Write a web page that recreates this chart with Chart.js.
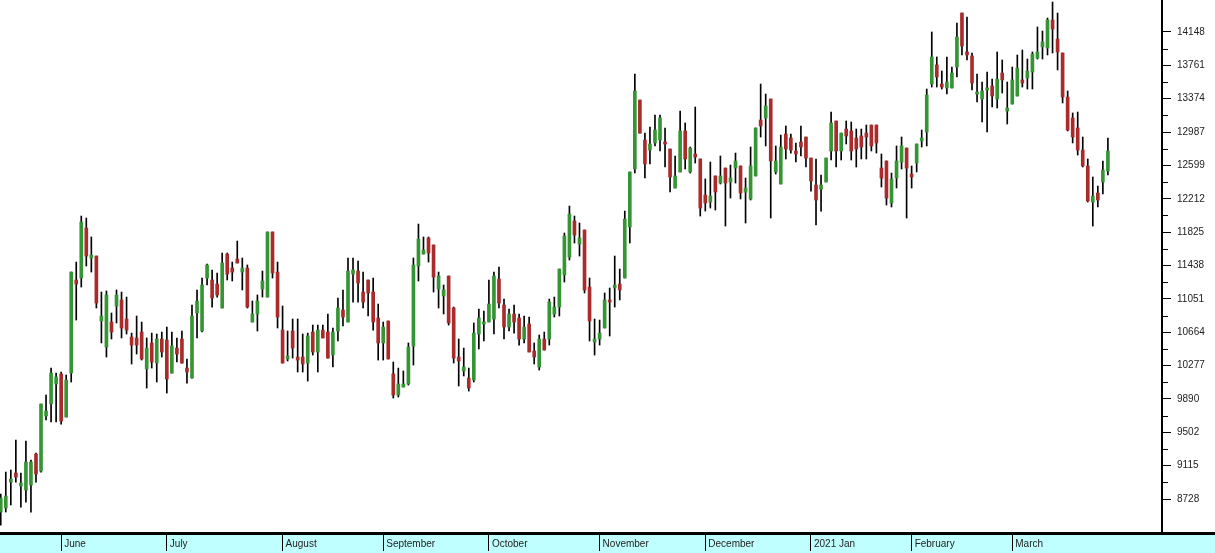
<!DOCTYPE html>
<html><head><meta charset="utf-8">
<script src="https://cdn.jsdelivr.net/npm/chart.js@4.4.1/dist/chart.umd.min.js"></script>
<style>html,body{margin:0;padding:0;background:#fff;overflow:hidden}#wrap{width:1215px;height:553px;position:relative}</style>
</head><body><div id="wrap"><canvas id="c"></canvas></div>
<script>
const opens = [8577,8624,8925,9030,8879,8832,8891,9250,9053,9691,9831,10063,10179,9680,10190,11270,11293,11873,11525,11548,
10794,10492,10782,10968,11038,10817,10608,10597,10666,10237,10539,10306,10585,10573,10190,10480,10585,10248,10132,10887,
10678,11293,11270,11223,10945,11571,11409,11513,11362,11409,10782,10875,11165,11072,11827,11362,10689,10353,10678,10376,
10376,10306,10666,10434,10689,10666,10399,10678,10921,10782,11339,11374,11130,11270,11130,10829,10539,10794,10179,9935,
10028,10063,10504,11432,11571,11757,11676,11165,11084,11316,10945,10376,10214,10132,10109,10643,10759,10782,10817,11281,
10980,10724,10875,10829,10585,10759,10446,10260,10585,10585,10875,10956,11328,11536,11954,11687,11850,11188,10550,10585,
10713,11038,11177,11223,11293,11885,12558,13358,12894,12778,12860,12894,12871,12790,12337,12523,12999,12523,12732,12674,
12256,12175,12477,12395,12569,12407,12569,12593,12291,12210,12477,13126,13150,13370,12523,12384,12964,12918,12767,12871,
12929,12685,12372,12326,12407,12767,13115,12767,13022,12999,12918,12941,12975,13068,13068,12569,12651,12163,12453,12639,
12801,12500,12627,12883,12987,13544,13765,13544,13498,13498,13741,14368,13916,13869,13428,13370,13475,13521,13370,13672,
13231,13312,13405,13591,13614,13683,13846,13974,13962,14287,14066,13904,13393,13150,13034,12778,12593,12175,12279,12407,12534];
const highs = [8786,9041,9065,9413,9030,9401,9181,9262,9831,9935,10248,10190,10202,10167,11362,11478,12012,11989,11769,11548,
11130,11142,10887,11154,11130,11072,10654,10852,10782,10597,10654,10643,10666,10724,10666,10597,10678,10353,10980,11154,
11293,11455,11386,11351,11583,11583,11478,11722,11525,11444,11026,11096,11374,11827,11827,11478,10968,10678,10817,10817,
10643,10654,10747,10747,10747,10875,10713,11061,11154,11525,11525,11490,11362,11270,11293,10991,10782,10794,10318,10248,
10214,10539,11525,11919,11769,11769,11676,11362,11212,11316,10956,10585,10480,10248,10771,10933,10910,11270,11362,11420,
11049,10933,10980,10875,10852,10840,10539,10631,10666,11049,11072,11397,11815,12128,12012,11931,11850,11293,10817,10805,
11119,11177,11548,11397,12070,12523,13660,13358,12975,13045,13184,13184,13034,12790,12709,13231,13092,12813,13277,12674,
12442,12639,12477,12709,12569,12604,12743,12593,12453,12813,13034,13544,13428,13370,12825,12952,13057,12964,12860,13057,
12929,12685,12674,12488,12685,13219,13115,12975,13115,13103,13022,13022,13068,13068,13068,12732,12651,12511,12825,12929,
12801,12593,12848,13010,13486,14148,13858,13695,13858,13741,14252,14368,14322,13904,13660,13567,13683,13602,13916,13823,
13567,13741,13881,13939,13834,13916,14206,14159,14310,14496,14368,13904,13463,13208,13219,12929,12674,12465,12360,12651,12918];
const lows = [8426,8577,8659,8925,8635,8693,8577,8925,9041,9645,9622,9622,9598,9680,10086,10805,11188,11432,11362,10945,
10539,10376,10585,10771,10597,10643,10295,10411,10341,10016,10248,10086,10376,9958,10190,10318,10306,10074,10132,10597,
10666,11212,10956,11072,10945,11270,11258,11467,11154,10945,10782,10678,11072,11072,11293,10713,10306,10330,10364,10202,
10202,10097,10399,10202,10597,10364,10260,10562,10736,10782,11014,11014,10945,10852,10689,10341,10341,10353,9900,9912,
10028,10051,10283,11258,11571,11478,11130,10945,10875,10747,10306,10040,10156,9981,10086,10469,10562,10782,10643,10945,
10585,10678,10654,10515,10539,10434,10295,10225,10457,10515,10840,10852,11246,11502,11699,11548,11119,10562,10399,10515,
10713,10620,10956,11038,11293,11699,12511,12975,12453,12616,12825,12767,12581,12291,12337,12523,12558,12511,12627,12012,
12070,12105,12082,12384,11896,12221,12395,12210,11931,12198,12477,12929,12825,11989,12500,12384,12674,12743,12639,12709,
12581,12302,11908,12070,12407,12662,12581,12662,12848,12662,12581,12674,12674,12767,12743,12349,12140,12117,12337,12558,
11989,12337,12523,12813,12825,13509,13509,13486,13428,13498,13625,13881,13823,13475,13335,13103,12987,13277,13266,13440,
13080,13312,13405,13509,13486,13486,13834,13834,13881,13904,13707,13324,12999,12860,12720,12581,12175,11896,12117,12268,12488];
const closes = [8740,8763,8960,8983,8914,9157,9157,9018,9831,9749,10190,10144,9633,10109,11362,11223,11943,11548,11560,11003,
10852,11096,10666,11096,10713,10689,10515,10515,10353,10480,10318,10585,10434,10121,10504,10411,10306,10202,10852,11026,
11212,11444,11061,11096,11467,11339,11362,11467,11409,10956,10875,11026,11258,11827,11351,10840,10306,10388,10480,10341,
10295,10620,10434,10689,10597,10364,10666,10945,10840,11374,11386,11235,11014,11119,10782,10539,10724,10353,9935,10063,
10063,10492,11444,11745,11618,11583,11304,11316,11154,10771,10364,10330,10260,10016,10654,10829,10782,10991,11316,11003,
10724,10875,10782,10585,10724,10434,10376,10585,10457,11014,10956,11397,11780,12035,11792,11757,11154,10794,10585,10654,
11038,11014,11212,11154,11977,12523,13463,12975,12616,12848,13010,13150,12848,12465,12477,12999,12674,12801,12697,12105,
12163,12244,12291,12477,12395,12453,12651,12279,12337,12593,13034,13057,13289,12651,12651,12813,12790,12778,12732,12813,
12685,12419,12198,12372,12685,13092,12767,12975,12941,12767,12790,12813,12929,12825,12860,12453,12221,12442,12651,12825,
12569,12465,12848,12918,13417,13858,13625,13509,13567,13672,14090,13985,13881,13556,13451,13463,13498,13405,13602,13591,
13266,13591,13730,13556,13695,13892,13916,14032,14287,14182,13916,13393,13010,12929,12778,12593,12186,12244,12198,12546,12767];

const monthLabels = ['June','July','August','September','October','November','December','2021 Jan','February','March'];
const monthStarts = [12,33,56,76,97,119,140,161,181,201];
const yTicks = [8728,9115,9502,9890,10277,10664,11051,11438,11825,12212,12599,12987,13374,13761,14148];
const yMin = 8334, yMax = 14519;
const xMin = -0.15, xMax = 230.75;

const GREEN = '#359535', RED = '#a92b2b';
const FONT = {family: '"Liberation Sans", Arial, sans-serif', size: 10};

const wickData = highs.map((h, i) => ({x: i, y: [lows[i], h]}));
const bodyData = opens.map((o, i) => ({x: i, y: [o, closes[i]]}));

const bandPlugin = {
  id: 'band',
  beforeDraw(chart) {
    const {ctx} = chart; const x = chart.scales.x;
    ctx.save();
    ctx.fillStyle = '#c0ffff';
    ctx.fillRect(0, x.top, chart.width, chart.height - x.top);
    ctx.restore();
  },
  afterDraw(chart) {
    const {ctx} = chart; const x = chart.scales.x; const y = chart.scales.y;
    ctx.save();
    ctx.strokeStyle = '#000';
    ctx.lineWidth = 3;
    ctx.beginPath(); ctx.moveTo(0, x.top + 0.5); ctx.lineTo(chart.width, x.top + 0.5); ctx.stroke();
    ctx.lineWidth = 1;
    ctx.beginPath();
    for (let k = 0; k < yTicks.length - 1; k++) {
      const py = Math.round(y.getPixelForValue((yTicks[k] + yTicks[k + 1]) / 2)) + 0.5;
      ctx.moveTo(y.left, py); ctx.lineTo(y.left + 6, py);
    }
    ctx.stroke();
    ctx.restore();
  }
};

new Chart(document.getElementById('c'), {
  type: 'bar',
  data: {datasets: [
    {label: 'body', data: bodyData, grouped: false, order: 0, barThickness: 3, minBarLength: 2, borderWidth: 0,
     backgroundColor: c => (closes[c.dataIndex] >= opens[c.dataIndex] ? GREEN : RED)},
    {label: 'wick', data: wickData, grouped: false, order: 1, barThickness: 1, borderWidth: 0, backgroundColor: '#000'}
  ]},
  options: {
    responsive: true, maintainAspectRatio: false, animation: false,
    layout: {padding: 0},
    plugins: {legend: {display: false}, tooltip: {enabled: false}},
    scales: {
      x: {type: 'linear', position: 'bottom', min: xMin, max: xMax, offset: false,
        afterBuildTicks: s => { s.ticks = monthStarts.map(v => ({value: v})); },
        afterFit: s => { s.height = 20; s.paddingLeft = 0; s.paddingRight = 0; },
        grid: {display: true, drawOnChartArea: false, drawTicks: true, tickLength: 18, color: '#000', lineWidth: 1, offset: false},
        border: {display: false},
        ticks: {autoSkip: false, maxRotation: 0, minRotation: 0, align: 'start', labelOffset: 3, padding: -13,
          color: '#222', font: FONT, callback: (v, i) => monthLabels[i]}
      },
      y: {type: 'linear', position: 'right', min: yMin, max: yMax, beginAtZero: false,
        afterBuildTicks: s => { s.ticks = yTicks.map(v => ({value: v})); },
        afterFit: s => { s.width = 53; s.paddingTop = 0; s.paddingBottom = 0; },
        grid: {display: true, drawOnChartArea: false, drawTicks: true, tickLength: 9, color: '#000'},
        border: {display: true, color: '#000', width: 2},
        ticks: {padding: 6, color: '#222', font: FONT, callback: v => String(v)}
      }
    }
  },
  plugins: [bandPlugin]
});
</script></body></html>
